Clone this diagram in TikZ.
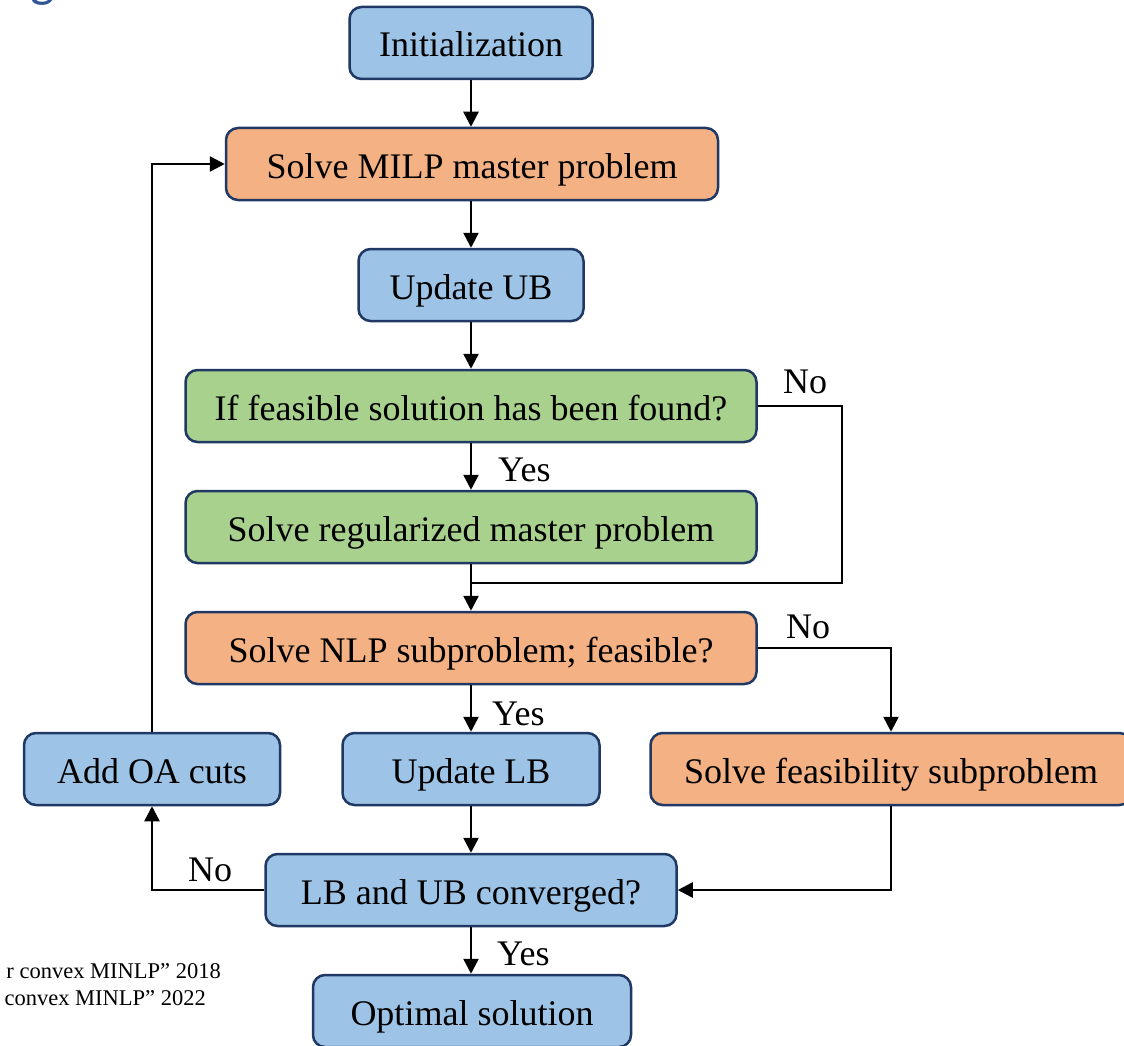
\documentclass[tikz,border=0pt]{standalone}
\usepackage{fontspec}
\setmainfont{Liberation Serif}
\newfontfamily\titlefont{Carlito}
\usetikzlibrary{arrows.meta,calc}
\definecolor{bluefill}{HTML}{9DC3E6}
\definecolor{orangefill}{HTML}{F4B183}
\definecolor{greenfill}{HTML}{A9D18E}
\definecolor{edgeblue}{HTML}{1F3864}
\definecolor{titleblue}{HTML}{2F5597}

\begin{document}
\begin{tikzpicture}[x=1pt,y=-1pt,
  box/.style={draw=edgeblue, line width=2.5pt, rounded corners=12pt,
    inner sep=0pt, minimum height=72pt, text height=28pt, text depth=0pt,
    font=\fontsize{36}{40}\selectfont},
  bluebox/.style={box, fill=bluefill},
  orangebox/.style={box, fill=orangefill},
  greenbox/.style={box, fill=greenfill},
  flow/.style={line width=2.5pt, -{Triangle[length=15pt,width=15pt]}},
  link/.style={line width=2.5pt},
  lbl/.style={font=\fontsize{36}{40}\selectfont, inner sep=0pt, anchor=base west},
  note/.style={font=\fontsize{22.5}{24}\selectfont, inner sep=0pt, anchor=base east}
]
\useasboundingbox (0,0) rectangle (1124,1046);
\clip (0,0) rectangle (1124,1046);

% tail of the slide title
\node[inner sep=0pt, anchor=base west, text=titleblue] (title) at (30,-3)
  {\titlefont\fontsize{52}{52}\selectfont g};

% flowchart boxes
\node[bluebox, minimum width=243pt] (init) at (471,43) {Initialization};
\node[orangebox, minimum width=492pt] (milp) at (472,164) {Solve MILP master problem};
\node[bluebox, minimum width=225pt] (ub) at (471,285) {Update UB};
\node[greenbox, minimum width=571pt] (found) at (471,406) {If feasible solution has been found?};
\node[greenbox, minimum width=571pt] (reg) at (471,527) {Solve regularized master problem};
\node[orangebox, minimum width=571pt] (nlp) at (471,648) {Solve NLP subproblem; feasible?};
\node[bluebox, minimum width=256pt] (oa) at (152,769) {Add OA cuts};
\node[bluebox, minimum width=257pt] (lb) at (471,769) {Update LB};
\node[orangebox, minimum width=481pt] (feas) at (891,769) {Solve feasibility subproblem};
\node[bluebox, minimum width=411pt] (conv) at (471,890) {LB and UB converged?};
\node[bluebox, minimum width=318pt] (opt) at (472,1011) {Optimal solution};

% routing points
\coordinate (merge) at (471,583);
\coordinate (nobend) at (842,406);
\coordinate (nobend2) at (842,583);
\coordinate (nlpbend) at (891,648);
\coordinate (feasbend) at (891,890);
\coordinate (convbend) at (152,890);
\coordinate (oabend) at (152,164);

% connectors (vertical ones kept straight)
\draw[flow] (init.south) -- (init.south |- milp.north);
\draw[flow] (ub.north |- milp.south) -- (ub.north);
\draw[flow] (ub.south) -- (found.north);
\draw[flow] (found.south) -- (reg.north);
\draw[flow] (reg.south) -- (nlp.north);
\draw[link] (found.east) -- (nobend) -- (nobend2) -- (merge);
\draw[flow] (nlp.south) -- (lb.north);
\draw[flow] (nlp.east) -- (nlpbend) -- (feas.north);
\draw[flow] (lb.south) -- (conv.north);
\draw[flow] (feas.south) -- (feasbend) -- (conv.east);
\draw[flow] (conv.west) -- (convbend) -- (oa.south);
\draw[flow] (oa.north) -- (oabend) -- (milp.west);
\draw[flow] (conv.south) -- (conv.south |- opt.north);

% branch labels
\node[lbl] (yes1) at (498,481) {Yes};
\node[lbl] (no1) at (783,393) {No};
\node[lbl] (yes2) at (492,725) {Yes};
\node[lbl] (no2) at (786,638) {No};
\node[lbl] (no3) at (188,881) {No};
\node[lbl] (yes3) at (497,965) {Yes};

% references
\node[note] (ref1) at (221,978) {r convex MINLP” 2018};
\node[note] (ref2) at (206,1005) {convex MINLP” 2022};
\end{tikzpicture}
\end{document}
